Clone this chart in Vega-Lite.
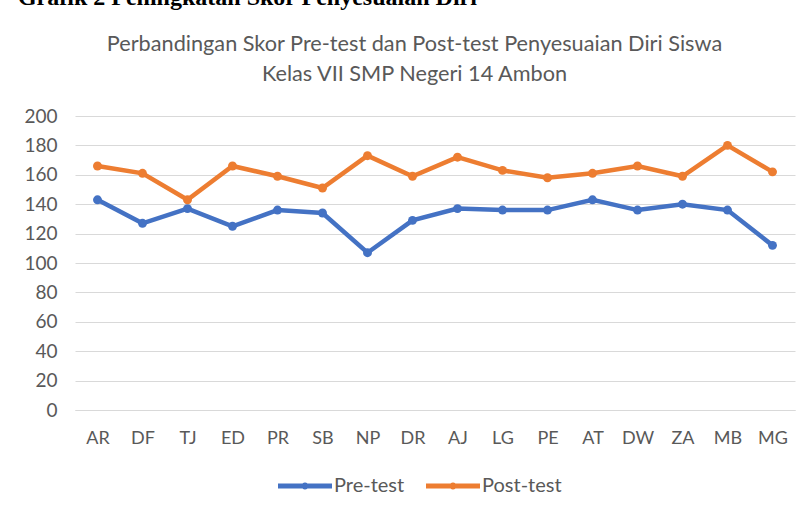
{
  "$schema": "https://vega.github.io/schema/vega-lite/v6.json",
  "autosize": {"type": "none"},
  "width": 720,
  "height": 294,
  "padding": {"left": 75, "top": 116, "right": 14, "bottom": 102},
  "background": "white",
  "title": {
    "text": "Grafik 2 Peningkatan Skor Penyesuaian Diri",
    "font": "Liberation Serif",
    "fontSize": 24,
    "fontWeight": "bold",
    "color": "#000000",
    "anchor": "start",
    "frame": "bounds",
    "baseline": "alphabetic",
    "dx": -6,
    "offset": 4
  },
  "data": {
    "values": [
      {"siswa": "AR", "tes": "Pre-test", "skor": 143},
      {"siswa": "DF", "tes": "Pre-test", "skor": 127},
      {"siswa": "TJ", "tes": "Pre-test", "skor": 137},
      {"siswa": "ED", "tes": "Pre-test", "skor": 125},
      {"siswa": "PR", "tes": "Pre-test", "skor": 136},
      {"siswa": "SB", "tes": "Pre-test", "skor": 134},
      {"siswa": "NP", "tes": "Pre-test", "skor": 107},
      {"siswa": "DR", "tes": "Pre-test", "skor": 129},
      {"siswa": "AJ", "tes": "Pre-test", "skor": 137},
      {"siswa": "LG", "tes": "Pre-test", "skor": 136},
      {"siswa": "PE", "tes": "Pre-test", "skor": 136},
      {"siswa": "AT", "tes": "Pre-test", "skor": 143},
      {"siswa": "DW", "tes": "Pre-test", "skor": 136},
      {"siswa": "ZA", "tes": "Pre-test", "skor": 140},
      {"siswa": "MB", "tes": "Pre-test", "skor": 136},
      {"siswa": "MG", "tes": "Pre-test", "skor": 112},
      {"siswa": "AR", "tes": "Post-test", "skor": 166},
      {"siswa": "DF", "tes": "Post-test", "skor": 161},
      {"siswa": "TJ", "tes": "Post-test", "skor": 143},
      {"siswa": "ED", "tes": "Post-test", "skor": 166},
      {"siswa": "PR", "tes": "Post-test", "skor": 159},
      {"siswa": "SB", "tes": "Post-test", "skor": 151},
      {"siswa": "NP", "tes": "Post-test", "skor": 173},
      {"siswa": "DR", "tes": "Post-test", "skor": 159},
      {"siswa": "AJ", "tes": "Post-test", "skor": 172},
      {"siswa": "LG", "tes": "Post-test", "skor": 163},
      {"siswa": "PE", "tes": "Post-test", "skor": 158},
      {"siswa": "AT", "tes": "Post-test", "skor": 161},
      {"siswa": "DW", "tes": "Post-test", "skor": 166},
      {"siswa": "ZA", "tes": "Post-test", "skor": 159},
      {"siswa": "MB", "tes": "Post-test", "skor": 180},
      {"siswa": "MG", "tes": "Post-test", "skor": 162}
    ]
  },
  "mark": {
    "type": "line",
    "strokeWidth": 4.5,
    "point": {"filled": true, "size": 80}
  },
  "encoding": {
    "x": {
      "field": "siswa",
      "type": "nominal",
      "sort": null,
      "scale": {"type": "point", "padding": 0.5},
      "axis": {
        "title": null,
        "labelAngle": 0,
        "labelFont": "Lato",
        "labelFontSize": 18,
        "labelColor": "#595959",
        "labelPadding": 19,
        "ticks": false,
        "grid": false,
        "domain": true,
        "domainColor": "#d9d9d9"
      }
    },
    "y": {
      "field": "skor",
      "type": "quantitative",
      "scale": {"domain": [0, 200], "nice": false},
      "axis": {
        "title": ["Perbandingan Skor Pre-test  dan Post-test Penyesuaian Diri Siswa", "Kelas VII SMP Negeri 14 Ambon"],
        "titleFont": "Lato",
        "titleFontWeight": "normal",
        "titleFontSize": 21.7,
        "titleColor": "#595959",
        "titleAngle": 0,
        "titleAlign": "center",
        "titleBaseline": "alphabetic",
        "titleLineHeight": 30,
        "titleX": 339,
        "titleY": -66,
        "values": [0, 20, 40, 60, 80, 100, 120, 140, 160, 180, 200],
        "labelFont": "Lato",
        "labelFontSize": 19,
        "labelColor": "#595959",
        "labelPadding": 18,
        "ticks": false,
        "domain": false,
        "grid": true,
        "gridColor": "#d9d9d9",
        "gridWidth": 1
      }
    },
    "color": {
      "field": "tes",
      "type": "nominal",
      "sort": ["Pre-test", "Post-test"],
      "scale": {"domain": ["Pre-test", "Post-test"], "range": ["#4472C4", "#ED7D31"]},
      "legend": {
        "title": null,
        "orient": "none",
        "legendX": 203,
        "legendY": 343,
        "direction": "horizontal",
        "symbolType": "M-1,-0.09L1,-0.09L1,0.09L-1,0.09Z M0.13,0A0.13,0.13 0 1 1 -0.13,0A0.13,0.13 0 1 1 0.13,0Z",
        "symbolSize": 2916,
        "symbolStrokeWidth": 0,
        "labelFont": "Lato",
        "labelFontSize": 20,
        "labelColor": "#595959",
        "labelOffset": 2,
        "columnPadding": 21
      }
    }
  },
  "config": {
    "view": {"stroke": null}
  }
}
